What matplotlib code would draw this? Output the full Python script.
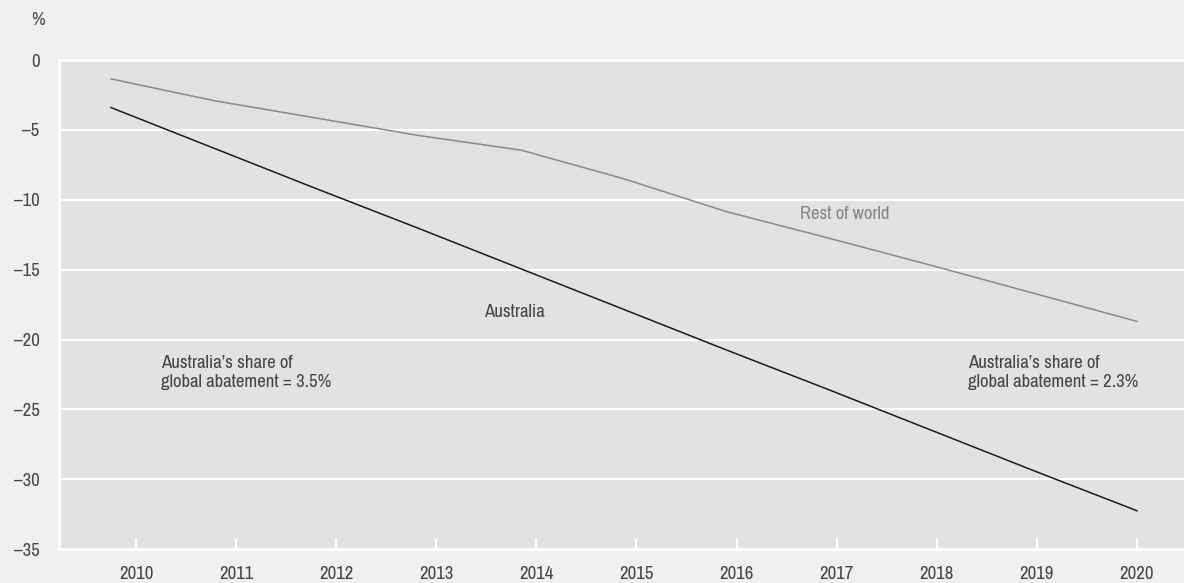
import matplotlib
matplotlib.use("Agg")
import matplotlib.pyplot as plt
from matplotlib import font_manager

# data
years = [2009.75, 2010.775, 2011.8, 2012.825, 2013.85, 2014.875,
         2015.9, 2016.925, 2017.95, 2018.975, 2020.0]
australia = [-3.4, -6.3, -9.2, -12.05, -14.95, -17.85,
             -20.75, -23.6, -26.5, -29.4, -32.25]
rest_of_world = [-1.35, -2.9, -4.15, -5.4, -6.45, -8.5,
                 -10.85, -12.75, -14.7, -16.7, -18.7]
xticks = list(range(2010, 2021))
yticks = [0, -5, -10, -15, -20, -25, -30, -35]

# prefer a narrow sans, like the original
names = sorted({f.name for f in font_manager.fontManager.ttflist})
narrow = [n for n in names if "Narrow" in n or "Condensed" in n]
plt.rcParams['font.family'] = narrow + ['Liberation Sans', 'DejaVu Sans']

BG = "#f0f0f0"
PANEL = "#e1e2e4"
TXT = "#454545"
FS = 13.5

fig = plt.figure(figsize=(11.84, 5.83), dpi=100, facecolor=BG)
ax = fig.add_axes([0.0498, 0.058, 0.9502, 0.839])
ax.set_facecolor(PANEL)

ax.plot(years, rest_of_world, color="#8a8a8a", lw=1.1, zorder=3)
ax.plot(years, australia, color="#1a1a1a", lw=1.1, zorder=3)

ax.set_xlim(2009.23, 2020.47)
ax.set_ylim(-35, 0)

ax.set_yticks(yticks)
ax.set_yticklabels([f"{v}".replace("-", "\u2013") for v in yticks])
ax.set_xticks(xticks)
ax.set_xticklabels([str(y) for y in xticks])

ax.yaxis.grid(True, color="white", lw=1.5, zorder=1)
ax.set_axisbelow(True)
ax.tick_params(axis="y", length=0, pad=14, labelsize=FS, labelcolor=TXT)
ax.tick_params(axis="x", direction="in", length=8, width=1.5, color="white",
               pad=12, labelsize=FS, labelcolor=TXT)

for side in ["left", "bottom", "top"]:
    ax.spines[side].set_color("white")
    ax.spines[side].set_linewidth(2)
ax.spines["right"].set_visible(False)

fig.text(0.032, 0.965, "%", ha="center", va="center", fontsize=FS, color=TXT)

ax.text(2013.78, -18.05, "Australia", ha="center", va="center",
        fontsize=FS, color=TXT)
ax.text(2016.63, -11.0, "Rest of world", ha="left", va="center",
        fontsize=FS, color="#858585")
ax.text(2010.25, -22.35, "Australia\u2019s share of\nglobal abatement = 3.5%",
        ha="left", va="center", fontsize=FS, color=TXT, linespacing=1.2)
ax.text(2018.31, -22.35, "Australia\u2019s share of\nglobal abatement = 2.3%",
        ha="left", va="center", fontsize=FS, color=TXT, linespacing=1.2)

fig.savefig("out.png", dpi=100, facecolor=BG)
